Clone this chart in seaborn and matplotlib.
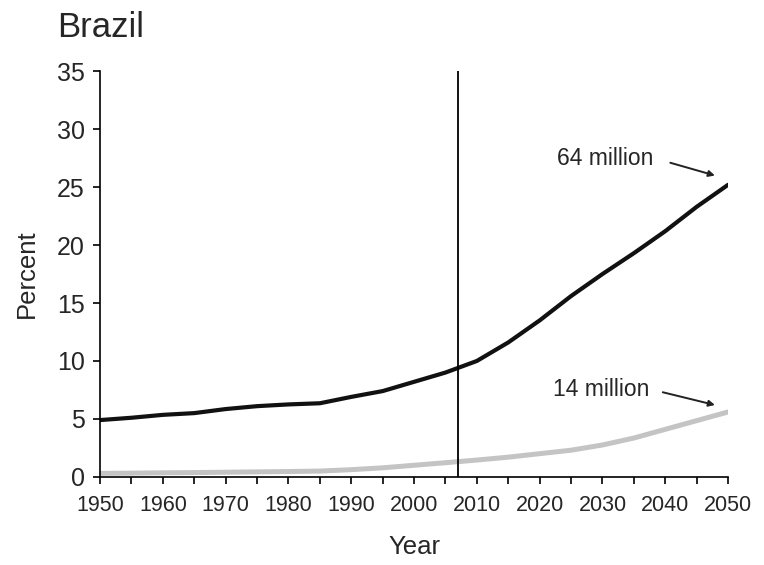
import numpy as np
import pandas as pd
import seaborn as sns
import matplotlib.pyplot as plt
from matplotlib.ticker import MultipleLocator

# data (Brazil, percent of population)
years = [1950, 1955, 1960, 1965, 1970, 1975, 1980, 1985, 1990, 1995, 2000,
         2005, 2010, 2015, 2020, 2025, 2030, 2035, 2040, 2045, 2050]
pct_black = [4.9, 5.1, 5.35, 5.5, 5.85, 6.1, 6.25, 6.35, 6.9, 7.4, 8.2,
             9.0, 10.0, 11.6, 13.5, 15.6, 17.5, 19.3, 21.2, 23.3, 25.2]
pct_gray = [0.3, 0.32, 0.35, 0.37, 0.4, 0.43, 0.46, 0.5, 0.62, 0.78, 1.0,
            1.22, 1.45, 1.7, 2.0, 2.3, 2.75, 3.35, 4.1, 4.85, 5.6]
now_year = 2007
labels = ["64 million", "14 million"]

sns.set_style("ticks")
plt.rcParams['font.family'] = ['Liberation Sans', 'DejaVu Sans']

df = pd.DataFrame({"Year": years, "black": pct_black, "gray": pct_gray})

fig = plt.figure(figsize=(7.64, 5.65), dpi=100)
ax = fig.add_axes([0.131, 0.156, 0.822, 0.718])

sns.lineplot(data=df, x="Year", y="gray", ax=ax, color="#c4c4c4", lw=3.6,
             legend=False)
sns.lineplot(data=df, x="Year", y="black", ax=ax, color="#111111", lw=3.0,
             legend=False)
ax.axvline(now_year, color="black", lw=1.3)

ax.set_xlim(1950, 2050)
ax.set_ylim(0, 35)
ax.xaxis.set_major_locator(MultipleLocator(10))
ax.xaxis.set_minor_locator(MultipleLocator(5))
ax.yaxis.set_major_locator(MultipleLocator(5))
ax.tick_params(axis="both", which="both", direction="out", length=5,
               width=1.2, color="black")
ax.tick_params(axis="x", labelsize=15.5, pad=8)
ax.tick_params(axis="y", labelsize=18, pad=6)
for s in ["left", "bottom"]:
    ax.spines[s].set_linewidth(1.2)
    ax.spines[s].set_color("black")
sns.despine(ax=ax)

ax.set_xlabel("Year", fontsize=18.5, labelpad=14)
ax.set_ylabel("Percent", fontsize=18.5, labelpad=13)

# annotations
ax.text(2022.8, 27.5, labels[0], fontsize=16.5, va="center", ha="left")
ax.annotate("", xy=(2047.9, 26.0), xytext=(2040.8, 27.1),
            arrowprops=dict(arrowstyle="-|>", color="#222222", lw=1.4,
                            mutation_scale=9, shrinkA=0, shrinkB=0))
ax.text(2022.1, 7.5, labels[1], fontsize=16.5, va="center", ha="left")
ax.annotate("", xy=(2047.9, 6.2), xytext=(2039.6, 7.3),
            arrowprops=dict(arrowstyle="-|>", color="#222222", lw=1.4,
                            mutation_scale=9, shrinkA=0, shrinkB=0))

fig.text(0.075, 0.935, "Brazil", fontsize=25, ha="left", va="baseline")

fig.savefig("out.png", dpi=100)
